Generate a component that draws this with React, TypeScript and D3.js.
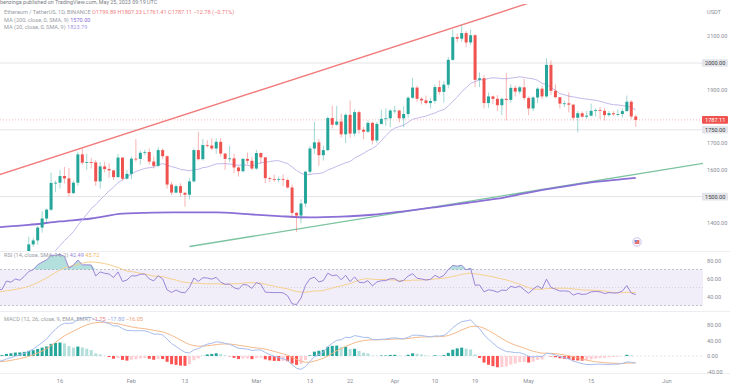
import React from "react";
import * as d3 from "d3";

// ETH/USDT daily candles, 2023-01-01 .. 2023-05-25
const firstDay = Date.UTC(2023, 0, 1);

const opens = [
  1196, 1200, 1214, 1214, 1256, 1251, 1269, 1264, 1287, 1321, 1336, 1384, 1418, 1451, 1551, 1552, 1577, 1568, 1513, 1552, 1658, 1627, 1629, 1628, 1557, 1613, 1603, 1598, 1573, 1646, 1567,
  1585, 1642, 1641, 1664, 1667, 1631, 1615, 1674, 1651, 1545, 1515, 1539, 1514, 1507, 1557, 1674, 1640, 1693, 1691, 1680, 1705, 1661, 1641, 1643, 1609, 1595, 1641, 1634,
  1605, 1663, 1647, 1569, 1566, 1564, 1565, 1562, 1534, 1439, 1429, 1474, 1593, 1680, 1703, 1655, 1674, 1794, 1769, 1781, 1733, 1806, 1736, 1816, 1750, 1743, 1776, 1710, 1772, 1791, 1793,
  1822, 1822, 1793, 1809, 1870, 1908, 1866, 1860, 1850, 1858, 1910, 1892, 1919, 2012, 2097, 2091, 2112, 2077, 2104, 1937, 1943, 1850, 1875, 1866, 1842, 1866, 1862, 1907, 1893, 1909,
  1869, 1830, 1871, 1904, 1875, 1993, 1896, 1872, 1848, 1849, 1844, 1795, 1812, 1799, 1803, 1821, 1824, 1821, 1805, 1812, 1808, 1809, 1820, 1855, 1799.89,
];
const highs = [
  1203, 1222, 1220, 1263, 1259, 1273, 1271, 1290, 1350, 1346, 1390, 1445, 1455, 1590, 1559, 1600, 1611, 1606, 1560, 1668, 1680, 1660, 1645, 1637, 1629, 1630, 1625, 1600, 1660, 1647, 1600,
  1650, 1715, 1672, 1675, 1680, 1650, 1685, 1680, 1655, 1555, 1545, 1550, 1518, 1570, 1680, 1742, 1715, 1711, 1718, 1718, 1720, 1663, 1690, 1660, 1615, 1645, 1665, 1648,
  1675, 1665, 1648, 1575, 1582, 1575, 1583, 1568, 1545, 1442, 1490, 1597, 1690, 1780, 1715, 1690, 1800, 1840, 1840, 1810, 1812, 1860, 1826, 1822, 1760, 1785, 1780, 1780, 1825, 1830, 1827,
  1840, 1825, 1838, 1875, 1945, 1915, 1872, 1878, 1870, 1920, 1935, 1932, 2022, 2125, 2111, 2142, 2119, 2125, 2108, 1965, 1955, 1890, 1878, 1880, 1870, 1962, 1920, 1915, 1915, 1940,
  1875, 1875, 1910, 1915, 2018, 2010, 1920, 1873, 1860, 1890, 1847, 1820, 1818, 1820, 1848, 1830, 1835, 1832, 1820, 1820, 1825, 1830, 1878, 1861, 1807.33,
];
const lows = [
  1192, 1190, 1205, 1209, 1241, 1235, 1261, 1260, 1285, 1312, 1320, 1365, 1400, 1446, 1517, 1530, 1550, 1500, 1510, 1540, 1620, 1600, 1605, 1540, 1530, 1590, 1570, 1562, 1570, 1560, 1564,
  1565, 1630, 1620, 1655, 1620, 1605, 1610, 1640, 1530, 1505, 1512, 1500, 1462, 1490, 1553, 1635, 1635, 1683, 1675, 1660, 1650, 1600, 1630, 1588, 1575, 1590, 1620, 1600,
  1600, 1623, 1550, 1555, 1555, 1553, 1540, 1530, 1420, 1368, 1400, 1462, 1585, 1660, 1615, 1635, 1670, 1755, 1765, 1720, 1700, 1720, 1725, 1735, 1715, 1738, 1695, 1700, 1770, 1765, 1760,
  1810, 1777, 1760, 1795, 1865, 1855, 1845, 1845, 1830, 1848, 1882, 1852, 1905, 2008, 2078, 2080, 2060, 2068, 1910, 1910, 1830, 1832, 1846, 1820, 1805, 1785, 1852, 1875, 1884, 1860,
  1805, 1820, 1850, 1865, 1870, 1880, 1868, 1830, 1835, 1815, 1785, 1741, 1795, 1790, 1800, 1800, 1790, 1785, 1800, 1802, 1800, 1795, 1818, 1790, 1761.41,
];
const closes = [
  1200, 1214, 1214, 1256, 1251, 1269, 1264, 1287, 1321, 1336, 1384, 1418, 1451, 1551, 1552, 1577, 1568, 1513, 1552, 1658, 1627, 1629, 1628, 1557, 1613, 1603, 1598, 1573, 1646, 1567, 1585,
  1642, 1641, 1664, 1667, 1631, 1615, 1674, 1651, 1545, 1515, 1539, 1514, 1507, 1557, 1674, 1640, 1693, 1691, 1680, 1705, 1661, 1641, 1643, 1609, 1595, 1641, 1634, 1605,
  1663, 1647, 1569, 1566, 1564, 1565, 1562, 1534, 1439, 1429, 1474, 1593, 1680, 1703, 1655, 1674, 1794, 1769, 1781, 1733, 1806, 1736, 1816, 1750, 1743, 1776, 1710, 1772, 1791, 1793, 1822,
  1822, 1793, 1809, 1870, 1908, 1866, 1860, 1850, 1858, 1910, 1892, 1919, 2012, 2097, 2091, 2112, 2077, 2104, 1937, 1943, 1850, 1875, 1866, 1842, 1866, 1862, 1907, 1893, 1909, 1869,
  1830, 1871, 1904, 1875, 1993, 1896, 1872, 1848, 1849, 1844, 1795, 1812, 1799, 1803, 1821, 1824, 1821, 1805, 1812, 1808, 1809, 1820, 1855, 1800, 1787.11,
];

// Dec 2022 closes, off screen to the left; only warm up the RSI / MACD / MA20
const warmupCloses = [
  1276, 1294, 1241, 1280, 1259, 1270, 1232, 1282, 1265, 1267, 1264, 1275, 1320, 1308, 1266, 1167,
  1188, 1187, 1167, 1217, 1212, 1218, 1219, 1220, 1218, 1226, 1212, 1189, 1200, 1199, 1196,
];

// MA 200
const ma200Dates = ["2023-01-02", "2023-01-09", "2023-01-16", "2023-01-23", "2023-01-30", "2023-02-06", "2023-02-13", "2023-02-20", "2023-02-27", "2023-03-06", "2023-03-13", "2023-03-20", "2023-03-27", "2023-04-03", "2023-04-10", "2023-04-17", "2023-04-24", "2023-05-01", "2023-05-08", "2023-05-15", "2023-05-22", "2023-05-25"];
const ma200Values = [1385, 1394, 1407, 1418, 1436, 1440, 1441, 1441, 1434, 1427, 1422, 1425, 1432, 1445, 1460, 1476, 1492, 1515, 1535, 1553, 1565, 1570];

const priceTicks = [2100, 1900, 1700, 1600, 1400];
const levelLines = [2000, 1750, 1500];
const rsiTicks = [80, 60, 40];
const macdTicks = [80, 40, 0, -40];
const timeTickDates = ["2023-01-16", "2023-02-01", "2023-02-13", "2023-03-01", "2023-03-13", "2023-03-22", "2023-04-01", "2023-04-10", "2023-04-19", "2023-05-01", "2023-05-15", "2023-06-01"];
const timeTickLabels = ["16", "Feb", "13", "Mar", "13", "22", "Apr", "10", "19", "May", "15", "Jun"];

// trend lines (date, price) anchors
const redTrend = [["2023-01-03", 1585], ["2023-04-16", 2143]];
const greenTrend = [["2023-02-14", 1313], ["2023-06-09", 1624]];

const FONT = "Roboto, 'Liberation Sans', sans-serif";
const UP = "#26a69a";
const DOWN = "#ef5350";
const PLOT_R = 703;

const DAY = 86400000;
const utc = (s: string) => new Date(s + "T00:00:00Z");

const smaOf = (src: (number | null)[], n: number) =>
  src.map((_, i) => {
    if (i < n - 1) return null;
    let s = 0;
    for (let k = i - n + 1; k <= i; k++) {
      const v = src[k];
      if (v == null) return null;
      s += v;
    }
    return s / n;
  });

const emaOf = (src: number[], n: number) => {
  const a = 2 / (n + 1);
  let prev = src[0];
  return src.map((v, i) => (prev = i === 0 ? v : a * v + (1 - a) * prev));
};

const rsiOf = (src: number[], n: number) => {
  const out: (number | null)[] = src.map(() => null);
  let ag = 0, al = 0;
  for (let i = 1; i < src.length; i++) {
    const ch = src[i] - src[i - 1];
    const g = Math.max(ch, 0), l = Math.max(-ch, 0);
    if (i <= n) {
      ag += g / n;
      al += l / n;
      if (i < n) continue;
    } else {
      ag = (ag * (n - 1) + g) / n;
      al = (al * (n - 1) + l) / n;
    }
    out[i] = al === 0 ? 100 : 100 - 100 / (1 + ag / al);
  }
  return out;
};

export default function App() {
  const x = d3.scaleUtc().domain([utc("2023-01-16"), utc("2023-06-01")]).range([60, 667]);
  const y = d3.scaleLinear().domain([1400, 2100]).range([223.3, 36.3]);
  const ry = d3.scaleLinear().domain([40, 80]).range([296.5, 260.5]);
  const my = d3.scaleLinear().domain([-40, 80]).range([371.5, 325]);

  const candles = closes.map((c, i) => ({
    date: new Date(firstDay + i * DAY),
    o: opens[i], h: highs[i], l: lows[i], c,
  }));

  // indicators
  const allC = warmupCloses.concat(closes);
  const OFF = warmupCloses.length;
  const ma20 = smaOf(allC, 20);
  const rsi = rsiOf(allC, 14);
  const rsiMa = smaOf(rsi, 14);
  const e12 = emaOf(allC, 12);
  const e26 = emaOf(allC, 26);
  const macd = e12.map((v, i) => v - e26[i]);
  const signal = emaOf(macd, 9);
  const hist = macd.map((v, i) => v - signal[i]);

  const vis = candles.map((c, i) => ({
    date: c.date,
    ma20: ma20[i + OFF],
    rsi: rsi[i + OFF],
    rsiMa: rsiMa[i + OFF],
    macd: macd[i + OFF],
    signal: signal[i + OFF],
    hist: hist[i + OFF],
    prevHist: hist[i + OFF - 1],
  }));

  type V = (typeof vis)[number];
  const lineOf = (f: (d: V) => number | null, sy: d3.ScaleLinear<number, number>) =>
    d3.line<V>().defined((d) => f(d) != null).x((d) => x(d.date)).y((d) => sy(f(d) as number))(vis) || "";

  const ma200Path = d3.line<number>()
    .x((_, i) => x(utc(ma200Dates[i])))
    .y((v) => y(v))
    .curve(d3.curveMonotoneX)(ma200Values) || "";

  const trendPath = (pts: (string | number)[][], back: number, fwd: number) => {
    const x1 = x(utc(pts[0][0] as string)), y1 = y(pts[0][1] as number);
    const x2 = x(utc(pts[1][0] as string)), y2 = y(pts[1][1] as number);
    const dx = x2 - x1, dy = y2 - y1;
    return `M${x1 - back * dx},${y1 - back * dy}L${x2 + fwd * dx},${y2 + fwd * dy}`;
  };

  const obArea = d3.area<V>().defined((d) => d.rsi != null)
    .x((d) => x(d.date)).y0(ry(70)).y1((d) => ry(Math.max(d.rsi as number, 70)))(vis) || "";
  const osArea = d3.area<V>().defined((d) => d.rsi != null)
    .x((d) => x(d.date)).y0(ry(30)).y1((d) => ry(Math.min(d.rsi as number, 30)))(vis) || "";

  const histColor = (d: V) =>
    d.hist >= 0 ? (d.prevHist < d.hist ? "#26a69a" : "#b2dfdb") : (d.prevHist < d.hist ? "#ffcdd2" : "#ff5252");

  const lastClose = closes[closes.length - 1];
  const axisText = { fontFamily: FONT, fontSize: 5.6, fill: "#8a8d96" };
  const legendText = { fontFamily: FONT, fontSize: 5.6, fill: "#9a9da5" };

  return (
    <svg width={730} height={386} style={{ position: "absolute", left: 0, top: 0, background: "#fff" }}>
      <defs>
        <clipPath id="main"><rect x={0} y={4} width={PLOT_R} height={247} /></clipPath>
        <clipPath id="rsi"><rect x={0} y={252} width={PLOT_R} height={59} /></clipPath>
        <clipPath id="macd"><rect x={0} y={312} width={PLOT_R} height={61} /></clipPath>
      </defs>

      <text x={0} y={4} style={{ ...legendText, fill: "#7a7d85", fontSize: 5.4 }}>
        benzinga published on TradingView.com, May 25, 2023 09:19 UTC
      </text>

      {/* pane separators */}
      {[251.5, 311.5, 373.5].map((v) => (
        <line key={v} x1={0} x2={730} y1={v} y2={v} stroke="#eceef2" strokeWidth={1} />
      ))}

      {/* main pane */}
      <g clipPath="url(#main)">
        {levelLines.map((p) => (
          <line key={p} x1={0} x2={PLOT_R} y1={y(p)} y2={y(p)} stroke="#e3e4e8" strokeWidth={1} />
        ))}
        <line x1={0} x2={PLOT_R} y1={y(lastClose)} y2={y(lastClose)} stroke="#f4a3a3" strokeWidth={0.8} strokeDasharray="1,2" />
        <path d={trendPath(redTrend, 2, 2)} stroke="#f27c7c" strokeWidth={1.4} fill="none" />
        <path d={trendPath(greenTrend, 0, 1)} stroke="#7cc3a0" strokeWidth={1.4} fill="none" />
        <path d={ma200Path} stroke="#8a6fd6" strokeWidth={1.8} fill="none" />
        <path d={lineOf((d) => d.ma20, y)} stroke="#c3b9ec" strokeWidth={1} fill="none" />
        {candles.map((c, i) => {
          const cx = x(c.date);
          const col = c.c >= c.o ? UP : DOWN;
          const top = y(Math.max(c.o, c.c));
          const bot = y(Math.min(c.o, c.c));
          return (
            <g key={i}>
              <line x1={cx} x2={cx} y1={y(c.h)} y2={y(c.l)} stroke={col} strokeOpacity={0.55} strokeWidth={0.8} />
              <rect x={cx - 1.5} y={top} width={3} height={Math.max(bot - top, 0.8)} fill={col} />
            </g>
          );
        })}
        {/* events badge */}
        <g transform="translate(637,242)">
          <circle r={4.2} fill="#fff" stroke="#c9c0ee" strokeWidth={1} />
          <rect x={-2.4} y={-2} width={4.8} height={4} fill="#e57373" />
          <rect x={-2.4} y={-2} width={2.2} height={2} fill="#6f8fd8" />
        </g>
      </g>

      {/* main legend */}
      <text x={4} y={14} style={legendText}>
        Ethereum / TetherUS, 1D, BINANCE{" "}
        <tspan fill="#f08080">O1799.89 H1807.33 L1761.41 C1787.11 −12.78 (−0.71%)</tspan>
      </text>
      <text x={4} y={21.5} style={legendText}>
        MA (200, close, 0, SMA, 9) <tspan fill="#8a6fd6">1570.00</tspan>
      </text>
      <text x={4} y={29} style={legendText}>
        MA (20, close, 0, SMA, 9) <tspan fill="#a898e0">1823.79</tspan>
      </text>

      {/* price axis */}
      <text x={707} y={14} style={axisText}>USDT</text>
      {priceTicks.map((p) => (
        <text key={p} x={707} y={y(p) + 2} style={axisText}>{p.toFixed(2)}</text>
      ))}
      {levelLines.map((p) => (
        <g key={p}>
          <rect x={702} y={y(p) - 3.8} width={26} height={7.6} rx={1} fill="#e4e5ea" />
          <text x={705} y={y(p) + 2} style={{ ...axisText, fill: "#3a3d45" }}>{p.toFixed(2)}</text>
        </g>
      ))}
      <rect x={702} y={y(lastClose) - 3.8} width={26} height={7.6} rx={1} fill={DOWN} />
      <text x={705} y={y(lastClose) + 2} style={{ ...axisText, fill: "#fff" }}>{lastClose.toFixed(2)}</text>

      {/* RSI pane */}
      <rect x={0} y={ry(70)} width={PLOT_R} height={ry(30) - ry(70)} fill="rgba(126,87,194,0.1)" />
      {[70, 30].map((v) => (
        <line key={v} x1={0} x2={PLOT_R} y1={ry(v)} y2={ry(v)} stroke="#b3b5bd" strokeWidth={0.8} strokeDasharray="2,2" />
      ))}
      <line x1={0} x2={PLOT_R} y1={ry(50)} y2={ry(50)} stroke="#c4c6cc" strokeWidth={0.7} strokeDasharray="1,2" />
      <g clipPath="url(#rsi)">
        <path d={obArea} fill="rgba(38,166,154,0.35)" />
        <path d={osArea} fill="rgba(239,83,80,0.3)" />
        <path d={lineOf((d) => d.rsiMa, ry)} stroke="#f6d08e" strokeWidth={1} fill="none" />
        <path d={lineOf((d) => d.rsi, ry)} stroke="#9a86d8" strokeWidth={1} fill="none" />
      </g>
      <text x={4} y={257} style={legendText}>
        RSI (14, close, SMA, 14, 2){"  "}
        <tspan fill="#9a86d8">42.49</tspan>{"  "}
        <tspan fill="#f0b860">45.72</tspan>
      </text>
      {rsiTicks.map((v) => (
        <text key={v} x={707} y={ry(v) + 2} style={axisText}>{v.toFixed(2)}</text>
      ))}

      {/* MACD pane */}
      <line x1={0} x2={PLOT_R} y1={my(0)} y2={my(0)} stroke="#d4d6dc" strokeWidth={0.7} strokeDasharray="2,2" />
      <g clipPath="url(#macd)">
        {vis.map((d, i) => {
          const y0 = my(0), y1 = my(d.hist);
          return (
            <rect key={i} x={x(d.date) - 1.5} y={Math.min(y0, y1)} width={3} height={Math.abs(y1 - y0)} fill={histColor(d)} />
          );
        })}
        <path d={lineOf((d) => d.signal, my)} stroke="#f5b98a" strokeWidth={1} fill="none" />
        <path d={lineOf((d) => d.macd, my)} stroke="#a7bdee" strokeWidth={1} fill="none" />
      </g>
      <text x={4} y={321} style={legendText}>
        MACD (12, 26, close, 9, EMA, EMA){"  "}
        <tspan fill="#f08080">−1.75</tspan>{"  "}
        <tspan fill="#8fa8e8">−17.80</tspan>{"  "}
        <tspan fill="#f0a070">−16.05</tspan>
      </text>
      {macdTicks.map((v) => (
        <text key={v} x={707} y={my(v) + 2} style={axisText}>{v.toFixed(2)}</text>
      ))}

      {/* time axis */}
      {timeTickDates.map((s, i) => (
        <text key={s} x={x(utc(s))} y={383} textAnchor="middle" style={axisText}>{timeTickLabels[i]}</text>
      ))}
    </svg>
  );
}
